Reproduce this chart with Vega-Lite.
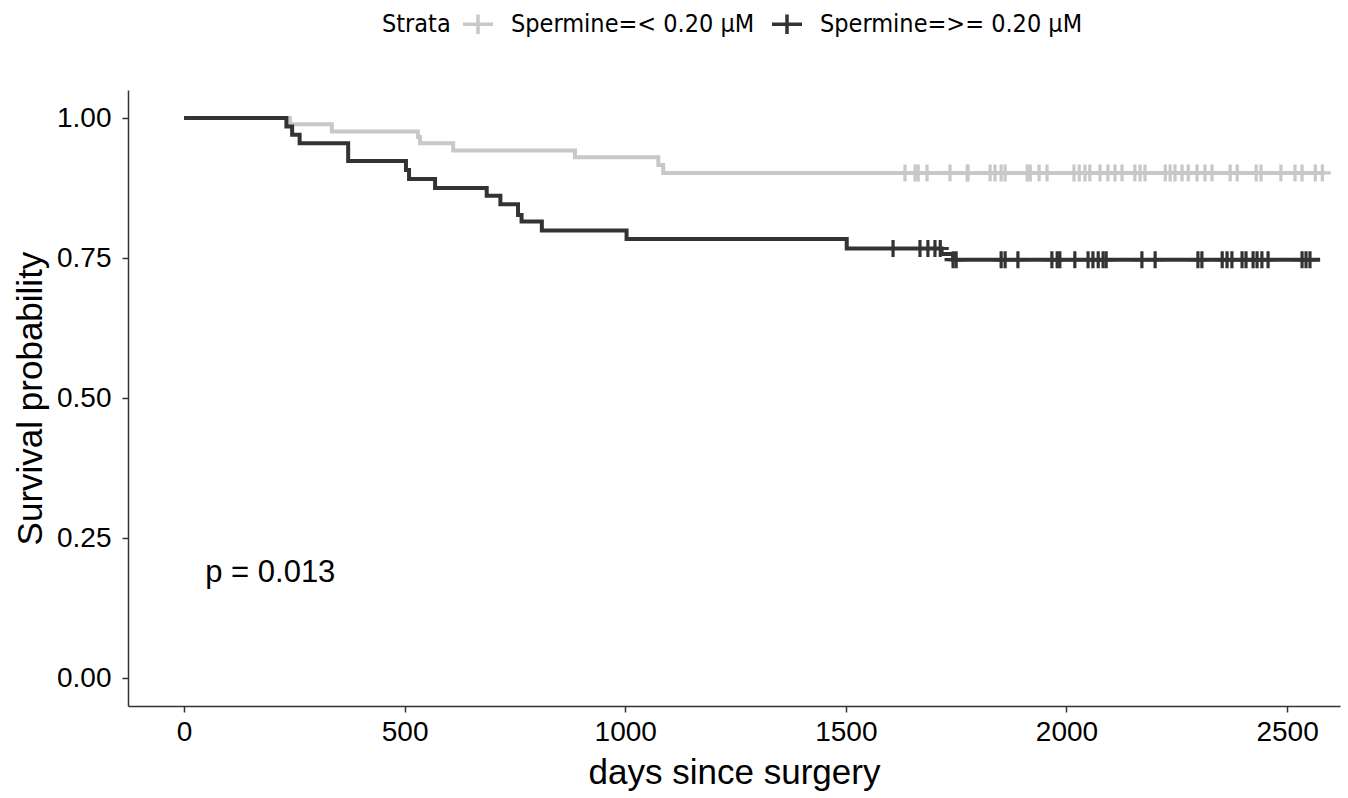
{
  "$schema": "https://vega.github.io/schema/vega-lite/v6.json",
  "width": 1212,
  "height": 616,
  "autosize": "none",
  "padding": {"left": 128, "top": 90, "right": 8, "bottom": 92},
  "background": "white",
  "config": {"view": {"stroke": null}},
  "datasets": {
    "steps": [
      {"strata": "Spermine=< 0.20 µM", "day": 0, "surv": 1.0},
      {"strata": "Spermine=< 0.20 µM", "day": 240, "surv": 0.989},
      {"strata": "Spermine=< 0.20 µM", "day": 335, "surv": 0.976},
      {"strata": "Spermine=< 0.20 µM", "day": 530, "surv": 0.966},
      {"strata": "Spermine=< 0.20 µM", "day": 535, "surv": 0.955},
      {"strata": "Spermine=< 0.20 µM", "day": 610, "surv": 0.942},
      {"strata": "Spermine=< 0.20 µM", "day": 886, "surv": 0.930},
      {"strata": "Spermine=< 0.20 µM", "day": 1075, "surv": 0.916},
      {"strata": "Spermine=< 0.20 µM", "day": 1086, "surv": 0.902},
      {"strata": "Spermine=< 0.20 µM", "day": 2586, "surv": 0.902},
      {"strata": "Spermine=>= 0.20 µM", "day": 0, "surv": 1.0},
      {"strata": "Spermine=>= 0.20 µM", "day": 232, "surv": 0.985},
      {"strata": "Spermine=>= 0.20 µM", "day": 245, "surv": 0.970},
      {"strata": "Spermine=>= 0.20 µM", "day": 262, "surv": 0.955},
      {"strata": "Spermine=>= 0.20 µM", "day": 372, "surv": 0.923},
      {"strata": "Spermine=>= 0.20 µM", "day": 503, "surv": 0.907},
      {"strata": "Spermine=>= 0.20 µM", "day": 510, "surv": 0.891},
      {"strata": "Spermine=>= 0.20 µM", "day": 569, "surv": 0.875},
      {"strata": "Spermine=>= 0.20 µM", "day": 686, "surv": 0.861},
      {"strata": "Spermine=>= 0.20 µM", "day": 717, "surv": 0.846},
      {"strata": "Spermine=>= 0.20 µM", "day": 757, "surv": 0.827},
      {"strata": "Spermine=>= 0.20 µM", "day": 765, "surv": 0.815},
      {"strata": "Spermine=>= 0.20 µM", "day": 811, "surv": 0.799},
      {"strata": "Spermine=>= 0.20 µM", "day": 1003, "surv": 0.784},
      {"strata": "Spermine=>= 0.20 µM", "day": 1502, "surv": 0.767},
      {"strata": "Spermine=>= 0.20 µM", "day": 1717, "surv": 0.757},
      {"strata": "Spermine=>= 0.20 µM", "day": 1743, "surv": 0.747},
      {"strata": "Spermine=>= 0.20 µM", "day": 2575, "surv": 0.747}
    ],
    "censors": [
      {"strata": "Spermine=< 0.20 µM", "day": 1634, "surv": 0.902},
      {"strata": "Spermine=< 0.20 µM", "day": 1657, "surv": 0.902},
      {"strata": "Spermine=< 0.20 µM", "day": 1664, "surv": 0.902},
      {"strata": "Spermine=< 0.20 µM", "day": 1684, "surv": 0.902},
      {"strata": "Spermine=< 0.20 µM", "day": 1736, "surv": 0.902},
      {"strata": "Spermine=< 0.20 µM", "day": 1775, "surv": 0.902},
      {"strata": "Spermine=< 0.20 µM", "day": 1777, "surv": 0.902},
      {"strata": "Spermine=< 0.20 µM", "day": 1827, "surv": 0.902},
      {"strata": "Spermine=< 0.20 µM", "day": 1838, "surv": 0.902},
      {"strata": "Spermine=< 0.20 µM", "day": 1852, "surv": 0.902},
      {"strata": "Spermine=< 0.20 µM", "day": 1861, "surv": 0.902},
      {"strata": "Spermine=< 0.20 µM", "day": 1911, "surv": 0.902},
      {"strata": "Spermine=< 0.20 µM", "day": 1918, "surv": 0.902},
      {"strata": "Spermine=< 0.20 µM", "day": 1938, "surv": 0.902},
      {"strata": "Spermine=< 0.20 µM", "day": 1956, "surv": 0.902},
      {"strata": "Spermine=< 0.20 µM", "day": 2017, "surv": 0.902},
      {"strata": "Spermine=< 0.20 µM", "day": 2029, "surv": 0.902},
      {"strata": "Spermine=< 0.20 µM", "day": 2042, "surv": 0.902},
      {"strata": "Spermine=< 0.20 µM", "day": 2053, "surv": 0.902},
      {"strata": "Spermine=< 0.20 µM", "day": 2076, "surv": 0.902},
      {"strata": "Spermine=< 0.20 µM", "day": 2094, "surv": 0.902},
      {"strata": "Spermine=< 0.20 µM", "day": 2110, "surv": 0.902},
      {"strata": "Spermine=< 0.20 µM", "day": 2126, "surv": 0.902},
      {"strata": "Spermine=< 0.20 µM", "day": 2155, "surv": 0.902},
      {"strata": "Spermine=< 0.20 µM", "day": 2167, "surv": 0.902},
      {"strata": "Spermine=< 0.20 µM", "day": 2178, "surv": 0.902},
      {"strata": "Spermine=< 0.20 µM", "day": 2224, "surv": 0.902},
      {"strata": "Spermine=< 0.20 µM", "day": 2235, "surv": 0.902},
      {"strata": "Spermine=< 0.20 µM", "day": 2246, "surv": 0.902},
      {"strata": "Spermine=< 0.20 µM", "day": 2262, "surv": 0.902},
      {"strata": "Spermine=< 0.20 µM", "day": 2276, "surv": 0.902},
      {"strata": "Spermine=< 0.20 µM", "day": 2296, "surv": 0.902},
      {"strata": "Spermine=< 0.20 µM", "day": 2314, "surv": 0.902},
      {"strata": "Spermine=< 0.20 µM", "day": 2330, "surv": 0.902},
      {"strata": "Spermine=< 0.20 µM", "day": 2371, "surv": 0.902},
      {"strata": "Spermine=< 0.20 µM", "day": 2387, "surv": 0.902},
      {"strata": "Spermine=< 0.20 µM", "day": 2430, "surv": 0.902},
      {"strata": "Spermine=< 0.20 µM", "day": 2441, "surv": 0.902},
      {"strata": "Spermine=< 0.20 µM", "day": 2486, "surv": 0.902},
      {"strata": "Spermine=< 0.20 µM", "day": 2518, "surv": 0.902},
      {"strata": "Spermine=< 0.20 µM", "day": 2534, "surv": 0.902},
      {"strata": "Spermine=< 0.20 µM", "day": 2564, "surv": 0.902},
      {"strata": "Spermine=< 0.20 µM", "day": 2580, "surv": 0.902},
      {"strata": "Spermine=>= 0.20 µM", "day": 1607, "surv": 0.767},
      {"strata": "Spermine=>= 0.20 µM", "day": 1668, "surv": 0.767},
      {"strata": "Spermine=>= 0.20 µM", "day": 1686, "surv": 0.767},
      {"strata": "Spermine=>= 0.20 µM", "day": 1702, "surv": 0.767},
      {"strata": "Spermine=>= 0.20 µM", "day": 1714, "surv": 0.767},
      {"strata": "Spermine=>= 0.20 µM", "day": 1743, "surv": 0.747},
      {"strata": "Spermine=>= 0.20 µM", "day": 1750, "surv": 0.747},
      {"strata": "Spermine=>= 0.20 µM", "day": 1852, "surv": 0.747},
      {"strata": "Spermine=>= 0.20 µM", "day": 1861, "surv": 0.747},
      {"strata": "Spermine=>= 0.20 µM", "day": 1890, "surv": 0.747},
      {"strata": "Spermine=>= 0.20 µM", "day": 1967, "surv": 0.747},
      {"strata": "Spermine=>= 0.20 µM", "day": 1979, "surv": 0.747},
      {"strata": "Spermine=>= 0.20 µM", "day": 1985, "surv": 0.747},
      {"strata": "Spermine=>= 0.20 µM", "day": 2019, "surv": 0.747},
      {"strata": "Spermine=>= 0.20 µM", "day": 2049, "surv": 0.747},
      {"strata": "Spermine=>= 0.20 µM", "day": 2060, "surv": 0.747},
      {"strata": "Spermine=>= 0.20 µM", "day": 2072, "surv": 0.747},
      {"strata": "Spermine=>= 0.20 µM", "day": 2083, "surv": 0.747},
      {"strata": "Spermine=>= 0.20 µM", "day": 2090, "surv": 0.747},
      {"strata": "Spermine=>= 0.20 µM", "day": 2171, "surv": 0.747},
      {"strata": "Spermine=>= 0.20 µM", "day": 2201, "surv": 0.747},
      {"strata": "Spermine=>= 0.20 µM", "day": 2298, "surv": 0.747},
      {"strata": "Spermine=>= 0.20 µM", "day": 2307, "surv": 0.747},
      {"strata": "Spermine=>= 0.20 µM", "day": 2353, "surv": 0.747},
      {"strata": "Spermine=>= 0.20 µM", "day": 2364, "surv": 0.747},
      {"strata": "Spermine=>= 0.20 µM", "day": 2375, "surv": 0.747},
      {"strata": "Spermine=>= 0.20 µM", "day": 2398, "surv": 0.747},
      {"strata": "Spermine=>= 0.20 µM", "day": 2407, "surv": 0.747},
      {"strata": "Spermine=>= 0.20 µM", "day": 2423, "surv": 0.747},
      {"strata": "Spermine=>= 0.20 µM", "day": 2432, "surv": 0.747},
      {"strata": "Spermine=>= 0.20 µM", "day": 2443, "surv": 0.747},
      {"strata": "Spermine=>= 0.20 µM", "day": 2457, "surv": 0.747},
      {"strata": "Spermine=>= 0.20 µM", "day": 2534, "surv": 0.747},
      {"strata": "Spermine=>= 0.20 µM", "day": 2543, "surv": 0.747},
      {"strata": "Spermine=>= 0.20 µM", "day": 2552, "surv": 0.747}
    ],
    "pval": [{"day": 48, "surv": 0.1875, "label": "p = 0.013"}]
  },
  "encoding": {
    "x": {
      "field": "day", "type": "quantitative",
      "scale": {"domain": [-127, 2620], "nice": false, "zero": false},
      "axis": {
        "title": "days since surgery", "values": [0, 500, 1000, 1500, 2000, 2500], "format": "d",
        "grid": false, "domainColor": "#333333", "domainWidth": 1.5,
        "tickColor": "#333333", "tickWidth": 1.5, "tickSize": 6,
        "labelFont": "Liberation Sans", "labelFontSize": 28, "labelColor": "#000000", "labelPadding": 6,
        "titleFont": "Liberation Sans", "titleFontSize": 35, "titleFontWeight": "normal", "titleColor": "#000000", "titlePadding": 9
      }
    },
    "y": {
      "field": "surv", "type": "quantitative",
      "scale": {"domain": [-0.05, 1.05], "nice": false, "zero": false},
      "axis": {
        "title": "Survival probability", "values": [0, 0.25, 0.5, 0.75, 1], "format": ".2f",
        "grid": false, "domainColor": "#333333", "domainWidth": 1.5,
        "tickColor": "#333333", "tickWidth": 1.5, "tickSize": 6,
        "labelFont": "Liberation Sans", "labelFontSize": 28, "labelColor": "#000000", "labelPadding": 11,
        "titleFont": "Liberation Sans", "titleFontSize": 35, "titleFontWeight": "normal", "titleColor": "#000000", "titlePadding": 8
      }
    }
  },
  "layer": [
    {
      "data": {"name": "steps"},
      "mark": {"type": "line", "interpolate": "step-after", "strokeWidth": 4},
      "encoding": {
        "color": {
          "field": "strata", "type": "nominal",
          "scale": {"domain": ["Spermine=< 0.20 µM", "Spermine=>= 0.20 µM"], "range": ["#c8c8c8", "#333333"]},
          "legend": {
            "title": "Strata", "orient": "none", "legendX": 254, "legendY": -83,
            "direction": "horizontal", "titleOrient": "left",
            "symbolType": "M-1,0L1,0M0,-0.65L0,0.65", "symbolSize": 900, "symbolStrokeWidth": 3.5,
            "labelFont": "Liberation Sans Narrow, DejaVu Sans Condensed, Liberation Sans", "labelFontSize": 25, "labelColor": "#000000", "labelLimit": 500, "labelOffset": 16,
            "titleFont": "Liberation Sans Narrow, DejaVu Sans Condensed, Liberation Sans", "titleFontSize": 25, "titleFontWeight": "normal", "titleColor": "#000000", "titlePadding": 10,
            "columnPadding": 10
          }
        }
      }
    },
    {
      "data": {"name": "censors"},
      "mark": {"type": "point", "shape": "M0,-1L0,1M-1,0L1,0", "size": 289, "strokeWidth": 3.2, "filled": false, "opacity": 1},
      "encoding": {
        "color": {"field": "strata", "type": "nominal"}
      }
    },
    {
      "data": {"name": "pval"},
      "mark": {"type": "text", "align": "left", "baseline": "middle", "font": "Liberation Sans", "fontSize": 31, "color": "#000000"},
      "encoding": {"text": {"field": "label"}}
    }
  ]
}
